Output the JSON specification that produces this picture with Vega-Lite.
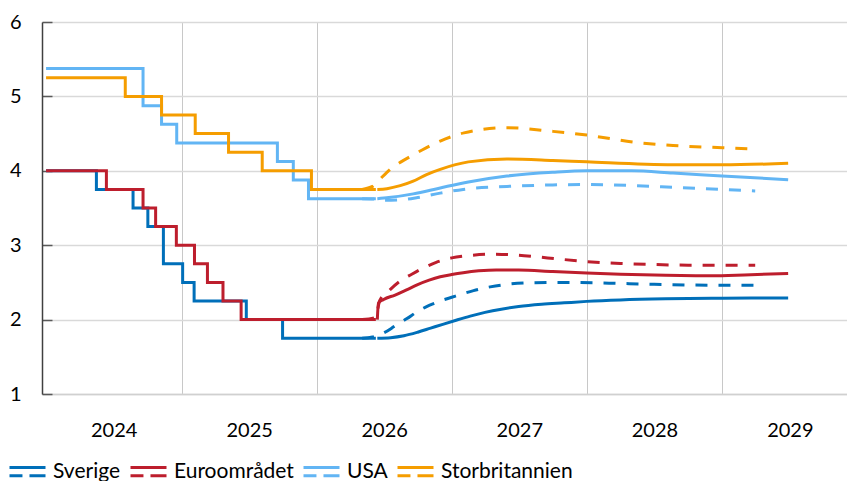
{
  "$schema": "https://vega.github.io/schema/vega-lite/v6.json",
  "width": 805,
  "height": 372,
  "autosize": {"type": "none"},
  "padding": {"left": 42, "top": 22, "right": 0, "bottom": 87},
  "background": "white",
  "config": {
    "view": {"stroke": null},
    "font": "Lato",
    "axis": {"labelFont": "Lato", "labelFontSize": 20, "labelColor": "#000000", "title": null}
  },
  "data": {
    "values": [
      {"c": "Sverige", "k": "h", "d": "2024-01-01", "v": 4.0},
      {"c": "Sverige", "k": "h", "d": "2024-05-16", "v": 3.75},
      {"c": "Sverige", "k": "h", "d": "2024-08-23", "v": 3.5},
      {"c": "Sverige", "k": "h", "d": "2024-10-02", "v": 3.25},
      {"c": "Sverige", "k": "h", "d": "2024-11-13", "v": 2.75},
      {"c": "Sverige", "k": "h", "d": "2025-01-04", "v": 2.5},
      {"c": "Sverige", "k": "h", "d": "2025-02-04", "v": 2.25},
      {"c": "Sverige", "k": "h", "d": "2025-06-25", "v": 2.0},
      {"c": "Sverige", "k": "h", "d": "2025-10-01", "v": 1.75},
      {"c": "Sverige", "k": "h", "d": "2026-06-10", "v": 1.75},

      {"c": "Euroområdet", "k": "h", "d": "2024-01-01", "v": 4.0},
      {"c": "Euroområdet", "k": "h", "d": "2024-06-12", "v": 3.75},
      {"c": "Euroområdet", "k": "h", "d": "2024-09-19", "v": 3.5},
      {"c": "Euroområdet", "k": "h", "d": "2024-10-23", "v": 3.25},
      {"c": "Euroområdet", "k": "h", "d": "2024-12-18", "v": 3.0},
      {"c": "Euroområdet", "k": "h", "d": "2025-02-05", "v": 2.75},
      {"c": "Euroområdet", "k": "h", "d": "2025-03-12", "v": 2.5},
      {"c": "Euroområdet", "k": "h", "d": "2025-04-23", "v": 2.25},
      {"c": "Euroområdet", "k": "h", "d": "2025-06-11", "v": 2.0},
      {"c": "Euroområdet", "k": "h", "d": "2026-06-10", "v": 2.0},

      {"c": "USA", "k": "h", "d": "2024-01-01", "v": 5.375},
      {"c": "USA", "k": "h", "d": "2024-09-19", "v": 4.875},
      {"c": "USA", "k": "h", "d": "2024-11-08", "v": 4.625},
      {"c": "USA", "k": "h", "d": "2024-12-19", "v": 4.375},
      {"c": "USA", "k": "h", "d": "2025-09-17", "v": 4.125},
      {"c": "USA", "k": "h", "d": "2025-10-30", "v": 3.875},
      {"c": "USA", "k": "h", "d": "2025-12-10", "v": 3.625},
      {"c": "USA", "k": "h", "d": "2026-06-10", "v": 3.625},

      {"c": "Storbritannien", "k": "h", "d": "2024-01-01", "v": 5.25},
      {"c": "Storbritannien", "k": "h", "d": "2024-08-02", "v": 5.0},
      {"c": "Storbritannien", "k": "h", "d": "2024-11-08", "v": 4.75},
      {"c": "Storbritannien", "k": "h", "d": "2025-02-07", "v": 4.5},
      {"c": "Storbritannien", "k": "h", "d": "2025-05-08", "v": 4.25},
      {"c": "Storbritannien", "k": "h", "d": "2025-08-07", "v": 4.0},
      {"c": "Storbritannien", "k": "h", "d": "2025-12-18", "v": 3.75},
      {"c": "Storbritannien", "k": "h", "d": "2026-06-10", "v": 3.75},

      {"c": "Sverige", "k": "f", "d": "2026-06-14", "v": 1.75},
      {"c": "Sverige", "k": "f", "d": "2026-07-20", "v": 1.757},
      {"c": "Sverige", "k": "f", "d": "2026-08-25", "v": 1.782},
      {"c": "Sverige", "k": "f", "d": "2026-10-01", "v": 1.83},
      {"c": "Sverige", "k": "f", "d": "2026-11-05", "v": 1.885},
      {"c": "Sverige", "k": "f", "d": "2026-12-10", "v": 1.94},
      {"c": "Sverige", "k": "f", "d": "2027-01-15", "v": 1.995},
      {"c": "Sverige", "k": "f", "d": "2027-02-20", "v": 2.047},
      {"c": "Sverige", "k": "f", "d": "2027-04-01", "v": 2.097},
      {"c": "Sverige", "k": "f", "d": "2027-05-15", "v": 2.14},
      {"c": "Sverige", "k": "f", "d": "2027-07-01", "v": 2.175},
      {"c": "Sverige", "k": "f", "d": "2027-09-01", "v": 2.205},
      {"c": "Sverige", "k": "f", "d": "2027-11-01", "v": 2.225},
      {"c": "Sverige", "k": "f", "d": "2028-01-01", "v": 2.245},
      {"c": "Sverige", "k": "f", "d": "2028-04-01", "v": 2.265},
      {"c": "Sverige", "k": "f", "d": "2028-08-01", "v": 2.28},
      {"c": "Sverige", "k": "f", "d": "2029-01-01", "v": 2.288},
      {"c": "Sverige", "k": "f", "d": "2029-06-28", "v": 2.29},

      {"c": "Euroområdet", "k": "f", "d": "2026-06-14", "v": 2.0},
      {"c": "Euroområdet", "k": "f", "d": "2026-06-17", "v": 2.22},
      {"c": "Euroområdet", "k": "f", "d": "2026-07-01", "v": 2.27},
      {"c": "Euroområdet", "k": "f", "d": "2026-08-01", "v": 2.33},
      {"c": "Euroområdet", "k": "f", "d": "2026-09-01", "v": 2.4},
      {"c": "Euroområdet", "k": "f", "d": "2026-10-01", "v": 2.47},
      {"c": "Euroområdet", "k": "f", "d": "2026-11-01", "v": 2.53},
      {"c": "Euroområdet", "k": "f", "d": "2026-12-01", "v": 2.575},
      {"c": "Euroområdet", "k": "f", "d": "2027-01-01", "v": 2.605},
      {"c": "Euroområdet", "k": "f", "d": "2027-02-01", "v": 2.63},
      {"c": "Euroområdet", "k": "f", "d": "2027-03-15", "v": 2.655},
      {"c": "Euroområdet", "k": "f", "d": "2027-05-01", "v": 2.668},
      {"c": "Euroområdet", "k": "f", "d": "2027-07-01", "v": 2.665},
      {"c": "Euroområdet", "k": "f", "d": "2027-10-01", "v": 2.645},
      {"c": "Euroområdet", "k": "f", "d": "2028-01-01", "v": 2.625},
      {"c": "Euroområdet", "k": "f", "d": "2028-04-01", "v": 2.61},
      {"c": "Euroområdet", "k": "f", "d": "2028-08-01", "v": 2.595},
      {"c": "Euroområdet", "k": "f", "d": "2028-12-01", "v": 2.59},
      {"c": "Euroområdet", "k": "f", "d": "2029-03-01", "v": 2.6},
      {"c": "Euroområdet", "k": "f", "d": "2029-06-28", "v": 2.62},

      {"c": "USA", "k": "f", "d": "2026-06-14", "v": 3.625},
      {"c": "USA", "k": "f", "d": "2026-07-15", "v": 3.64},
      {"c": "USA", "k": "f", "d": "2026-09-19", "v": 3.69},
      {"c": "USA", "k": "f", "d": "2026-12-01", "v": 3.77},
      {"c": "USA", "k": "f", "d": "2027-02-15", "v": 3.85},
      {"c": "USA", "k": "f", "d": "2027-05-30", "v": 3.93},
      {"c": "USA", "k": "f", "d": "2027-10-01", "v": 3.98},
      {"c": "USA", "k": "f", "d": "2028-01-01", "v": 4.0},
      {"c": "USA", "k": "f", "d": "2028-05-01", "v": 4.0},
      {"c": "USA", "k": "f", "d": "2028-08-21", "v": 3.97},
      {"c": "USA", "k": "f", "d": "2029-01-01", "v": 3.93},
      {"c": "USA", "k": "f", "d": "2029-06-28", "v": 3.88},

      {"c": "Storbritannien", "k": "f", "d": "2026-06-14", "v": 3.75},
      {"c": "Storbritannien", "k": "f", "d": "2026-07-10", "v": 3.76},
      {"c": "Storbritannien", "k": "f", "d": "2026-08-15", "v": 3.8},
      {"c": "Storbritannien", "k": "f", "d": "2026-09-19", "v": 3.86},
      {"c": "Storbritannien", "k": "f", "d": "2026-10-25", "v": 3.95},
      {"c": "Storbritannien", "k": "f", "d": "2026-12-01", "v": 4.02},
      {"c": "Storbritannien", "k": "f", "d": "2027-02-15", "v": 4.12},
      {"c": "Storbritannien", "k": "f", "d": "2027-05-30", "v": 4.16},
      {"c": "Storbritannien", "k": "f", "d": "2027-10-01", "v": 4.14},
      {"c": "Storbritannien", "k": "f", "d": "2028-01-01", "v": 4.12},
      {"c": "Storbritannien", "k": "f", "d": "2028-08-21", "v": 4.08},
      {"c": "Storbritannien", "k": "f", "d": "2029-01-01", "v": 4.08},
      {"c": "Storbritannien", "k": "f", "d": "2029-06-28", "v": 4.1},

      {"c": "Sverige", "k": "p", "d": "2026-05-04", "v": 1.75},
      {"c": "Sverige", "k": "p", "d": "2026-06-01", "v": 1.765},
      {"c": "Sverige", "k": "p", "d": "2026-07-01", "v": 1.82},
      {"c": "Sverige", "k": "p", "d": "2026-08-01", "v": 1.915},
      {"c": "Sverige", "k": "p", "d": "2026-09-01", "v": 2.01},
      {"c": "Sverige", "k": "p", "d": "2026-10-01", "v": 2.11},
      {"c": "Sverige", "k": "p", "d": "2026-11-01", "v": 2.19},
      {"c": "Sverige", "k": "p", "d": "2026-12-01", "v": 2.25},
      {"c": "Sverige", "k": "p", "d": "2027-01-01", "v": 2.3},
      {"c": "Sverige", "k": "p", "d": "2027-02-01", "v": 2.35},
      {"c": "Sverige", "k": "p", "d": "2027-03-01", "v": 2.39},
      {"c": "Sverige", "k": "p", "d": "2027-04-15", "v": 2.44},
      {"c": "Sverige", "k": "p", "d": "2027-06-01", "v": 2.475},
      {"c": "Sverige", "k": "p", "d": "2027-08-01", "v": 2.495},
      {"c": "Sverige", "k": "p", "d": "2027-10-01", "v": 2.5},
      {"c": "Sverige", "k": "p", "d": "2027-12-01", "v": 2.5},
      {"c": "Sverige", "k": "p", "d": "2028-03-01", "v": 2.49},
      {"c": "Sverige", "k": "p", "d": "2028-07-01", "v": 2.475},
      {"c": "Sverige", "k": "p", "d": "2028-10-01", "v": 2.465},
      {"c": "Sverige", "k": "p", "d": "2029-03-31", "v": 2.46},

      {"c": "Euroområdet", "k": "p", "d": "2026-05-04", "v": 2.0},
      {"c": "Euroområdet", "k": "p", "d": "2026-06-10", "v": 2.03},
      {"c": "Euroområdet", "k": "p", "d": "2026-06-20", "v": 2.25},
      {"c": "Euroområdet", "k": "p", "d": "2026-07-18", "v": 2.4},
      {"c": "Euroområdet", "k": "p", "d": "2026-08-15", "v": 2.52},
      {"c": "Euroområdet", "k": "p", "d": "2026-09-15", "v": 2.61},
      {"c": "Euroområdet", "k": "p", "d": "2026-10-15", "v": 2.69},
      {"c": "Euroområdet", "k": "p", "d": "2026-11-20", "v": 2.77},
      {"c": "Euroområdet", "k": "p", "d": "2027-01-01", "v": 2.83},
      {"c": "Euroområdet", "k": "p", "d": "2027-02-15", "v": 2.86},
      {"c": "Euroområdet", "k": "p", "d": "2027-04-22", "v": 2.88},
      {"c": "Euroområdet", "k": "p", "d": "2027-06-15", "v": 2.87},
      {"c": "Euroområdet", "k": "p", "d": "2027-08-15", "v": 2.845},
      {"c": "Euroområdet", "k": "p", "d": "2027-10-15", "v": 2.815},
      {"c": "Euroområdet", "k": "p", "d": "2028-01-01", "v": 2.78},
      {"c": "Euroområdet", "k": "p", "d": "2028-04-01", "v": 2.755},
      {"c": "Euroområdet", "k": "p", "d": "2028-07-01", "v": 2.74},
      {"c": "Euroområdet", "k": "p", "d": "2028-10-01", "v": 2.732},
      {"c": "Euroområdet", "k": "p", "d": "2029-03-31", "v": 2.73},

      {"c": "USA", "k": "p", "d": "2026-05-04", "v": 3.625},
      {"c": "USA", "k": "p", "d": "2026-06-10", "v": 3.62},
      {"c": "USA", "k": "p", "d": "2026-07-01", "v": 3.605},
      {"c": "USA", "k": "p", "d": "2026-08-15", "v": 3.61},
      {"c": "USA", "k": "p", "d": "2026-10-01", "v": 3.64},
      {"c": "USA", "k": "p", "d": "2026-12-01", "v": 3.7},
      {"c": "USA", "k": "p", "d": "2027-02-01", "v": 3.75},
      {"c": "USA", "k": "p", "d": "2027-05-30", "v": 3.79},
      {"c": "USA", "k": "p", "d": "2027-10-01", "v": 3.81},
      {"c": "USA", "k": "p", "d": "2028-01-01", "v": 3.815},
      {"c": "USA", "k": "p", "d": "2028-05-16", "v": 3.8},
      {"c": "USA", "k": "p", "d": "2028-09-01", "v": 3.775},
      {"c": "USA", "k": "p", "d": "2029-01-01", "v": 3.75},
      {"c": "USA", "k": "p", "d": "2029-03-31", "v": 3.73},

      {"c": "Storbritannien", "k": "p", "d": "2026-05-04", "v": 3.75},
      {"c": "Storbritannien", "k": "p", "d": "2026-06-01", "v": 3.79},
      {"c": "Storbritannien", "k": "p", "d": "2026-06-14", "v": 3.85},
      {"c": "Storbritannien", "k": "p", "d": "2026-07-21", "v": 4.03},
      {"c": "Storbritannien", "k": "p", "d": "2026-08-17", "v": 4.12},
      {"c": "Storbritannien", "k": "p", "d": "2026-09-14", "v": 4.2},
      {"c": "Storbritannien", "k": "p", "d": "2026-10-13", "v": 4.28},
      {"c": "Storbritannien", "k": "p", "d": "2026-12-01", "v": 4.4},
      {"c": "Storbritannien", "k": "p", "d": "2027-02-03", "v": 4.51},
      {"c": "Storbritannien", "k": "p", "d": "2027-05-30", "v": 4.58},
      {"c": "Storbritannien", "k": "p", "d": "2027-10-01", "v": 4.53},
      {"c": "Storbritannien", "k": "p", "d": "2028-01-01", "v": 4.48},
      {"c": "Storbritannien", "k": "p", "d": "2028-05-16", "v": 4.38},
      {"c": "Storbritannien", "k": "p", "d": "2028-08-21", "v": 4.34},
      {"c": "Storbritannien", "k": "p", "d": "2029-01-01", "v": 4.31},
      {"c": "Storbritannien", "k": "p", "d": "2029-03-31", "v": 4.29}
    ]
  },
  "encoding": {
    "x": {
      "field": "d",
      "type": "temporal",
      "scale": {
        "type": "utc",
        "domain": [
          {"year": 2023, "month": 12, "date": 21, "utc": true},
          {"year": 2029, "month": 12, "date": 4, "utc": true}
        ]
      },
      "axis": {
        "values": [
          {"year": 2024, "month": 1, "date": 1, "utc": true},
          {"year": 2025, "month": 1, "date": 1, "utc": true},
          {"year": 2026, "month": 1, "date": 1, "utc": true},
          {"year": 2027, "month": 1, "date": 1, "utc": true},
          {"year": 2028, "month": 1, "date": 1, "utc": true},
          {"year": 2029, "month": 1, "date": 1, "utc": true}
        ],
        "labelExpr": "utcFormat(datum.value, '%Y')",
        "labelOffset": 67.6,
        "labelPadding": 26,
        "labelFlush": false,
        "labelOverlap": false,
        "ticks": false,
        "grid": true,
        "gridColor": "#c8c8c8",
        "gridWidth": 1,
        "gridOpacity": {"condition": {"test": "utcyear(datum.value) == 2024", "value": 0}, "value": 1},
        "domainColor": "#d0d0d0",
        "domainWidth": 1.5
      }
    },
    "y": {
      "field": "v",
      "type": "quantitative",
      "scale": {"domain": [1, 6], "nice": false, "zero": false},
      "axis": {
        "values": [1, 2, 3, 4, 5, 6],
        "grid": true,
        "gridColor": "#d9d9d9",
        "gridWidth": 1.5,
        "tickSize": -10,
        "tickColor": "#595959",
        "tickWidth": 1.5,
        "domainColor": "#404040",
        "domainWidth": 1.5,
        "labelPadding": 31
      }
    },
    "color": {
      "field": "c",
      "type": "nominal",
      "scale": {
        "domain": ["Sverige", "Euroområdet", "USA", "Storbritannien"],
        "range": ["#006FB9", "#BD1E2D", "#62B5F4", "#F59D00"]
      },
      "legend": {
        "orient": "none",
        "legendX": -34,
        "legendY": 430,
        "direction": "horizontal",
        "title": null,
        "symbolType": "M-1,-0.23L1,-0.23M-1,0.22L-0.28,0.22M0.11,0.22L1,0.22",
        "symbolSize": 1296,
        "symbolStrokeWidth": 3,
        "labelFont": "Lato",
        "labelFontSize": 21,
        "labelColor": "#000000",
        "labelOffset": 6,
        "columnPadding": 3,
        "labelLimit": 300
      }
    }
  },
  "layer": [
    {
      "transform": [{"filter": "datum.k == 'h'"}],
      "mark": {"type": "line", "interpolate": "step-after", "strokeWidth": 3, "strokeJoin": "miter"}
    },
    {
      "transform": [{"filter": "datum.k == 'f'"}],
      "mark": {"type": "line", "interpolate": "monotone", "strokeWidth": 3}
    },
    {
      "transform": [{"filter": "datum.k == 'p'"}],
      "mark": {"type": "line", "interpolate": "monotone", "strokeWidth": 3, "strokeDash": [12, 11], "strokeCap": "butt"}
    }
  ]
}
